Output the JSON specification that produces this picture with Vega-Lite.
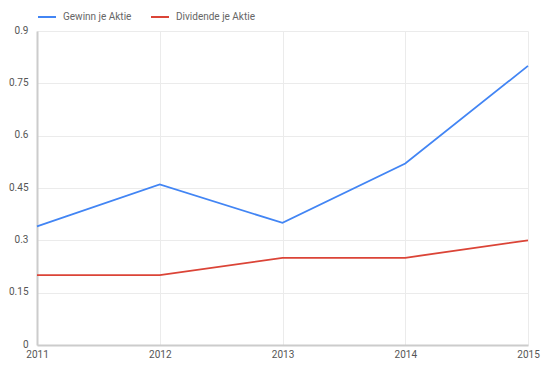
{
  "$schema": "https://vega.github.io/schema/vega-lite/v6.json",
  "width": 491,
  "height": 314,
  "autosize": {"type": "none"},
  "padding": {"left": 37, "top": 31, "right": 19, "bottom": 23},
  "background": "white",
  "data": {
    "values": [
      {"Jahr": 2011, "Serie": "Gewinn je Aktie", "Wert": 0.34},
      {"Jahr": 2012, "Serie": "Gewinn je Aktie", "Wert": 0.46},
      {"Jahr": 2013, "Serie": "Gewinn je Aktie", "Wert": 0.35},
      {"Jahr": 2014, "Serie": "Gewinn je Aktie", "Wert": 0.52},
      {"Jahr": 2015, "Serie": "Gewinn je Aktie", "Wert": 0.80},
      {"Jahr": 2011, "Serie": "Dividende je Aktie", "Wert": 0.20},
      {"Jahr": 2012, "Serie": "Dividende je Aktie", "Wert": 0.20},
      {"Jahr": 2013, "Serie": "Dividende je Aktie", "Wert": 0.25},
      {"Jahr": 2014, "Serie": "Dividende je Aktie", "Wert": 0.25},
      {"Jahr": 2015, "Serie": "Dividende je Aktie", "Wert": 0.30}
    ]
  },
  "config": {
    "font": "Roboto",
    "view": {"stroke": null},
    "axis": {
      "labelFont": "Roboto",
      "labelFontSize": 10,
      "labelColor": "#555555",
      "gridColor": "#ebebeb",
      "gridWidth": 1,
      "domainColor": "#cccccc",
      "domainWidth": 2,
      "ticks": false,
      "title": null
    }
  },
  "mark": {"type": "line", "strokeWidth": 1.8},
  "encoding": {
    "x": {
      "field": "Jahr",
      "type": "quantitative",
      "scale": {"domain": [2011, 2015], "nice": false, "zero": false},
      "axis": {"values": [2011, 2012, 2013, 2014, 2015], "format": "d", "labelFlush": false, "labelPadding": 4, "grid": true}
    },
    "y": {
      "field": "Wert",
      "type": "quantitative",
      "scale": {"domain": [0, 0.9], "nice": false},
      "axis": {"values": [0, 0.15, 0.3, 0.45, 0.6, 0.75, 0.9], "labelExpr": "'' + datum.value", "labelPadding": 9, "labelFlush": false, "labelBaseline": "bottom", "labelOffset": 4, "grid": true}
    },
    "color": {
      "field": "Serie",
      "type": "nominal",
      "scale": {"domain": ["Gewinn je Aktie", "Dividende je Aktie"], "range": ["#4285f4", "#db4437"]},
      "legend": {
        "title": null,
        "orient": "none",
        "direction": "horizontal",
        "legendX": 0,
        "legendY": -24,
        "symbolType": "stroke",
        "symbolSize": 324,
        "symbolStrokeWidth": 2,
        "labelFont": "Roboto",
        "labelFontSize": 10,
        "labelColor": "#666666",
        "columnPadding": 15,
        "labelOffset": 6
      }
    }
  }
}
